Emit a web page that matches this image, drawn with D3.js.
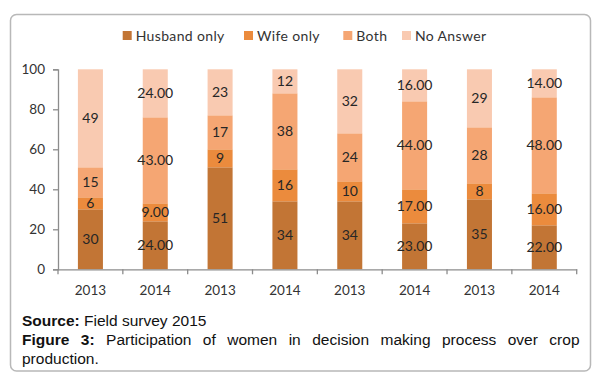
<!DOCTYPE html>
<html>
<head>
<meta charset="utf-8">
<script src="https://cdn.jsdelivr.net/npm/d3@7"></script>
<style>
  html, body { margin: 0; padding: 0; background: #fff; }
  svg { display: block; }
</style>
</head>
<body>
<svg id="chart" width="600" height="382"></svg>
<script>
const categories = ["2013", "2014", "2013", "2014", "2013", "2014", "2013", "2014"];
const seriesNames = ["Husband only", "Wife only", "Both", "No Answer"];
const husbandOnly = [30, 24, 51, 34, 34, 23, 35, 22];
const wifeOnly = [6, 9, 9, 16, 10, 17, 8, 16];
const both = [15, 43, 17, 38, 24, 44, 28, 48];
const noAnswer = [49, 24, 23, 12, 32, 16, 29, 14];
const labelDecimals = [0, 2, 0, 0, 0, 2, 0, 2];
const yTicks = [0, 20, 40, 60, 80, 100];
const sourceText = ["Source:", "Field survey 2015"];
const captionBold = "Figure 3:";
const captionText = "Participation of women in decision making process over crop production.";

const colors = ["#C27535", "#EB8B3D", "#F5A673", "#F9CAB1"];
const seriesValues = [husbandOnly, wifeOnly, both, noAnswer];

const svg = d3.select("#chart");

// Frame
svg.append("rect")
  .attr("x", 10.5).attr("y", 14.5)
  .attr("width", 580).attr("height", 356.5)
  .attr("rx", 6).attr("ry", 6)
  .attr("fill", "#fff")
  .attr("stroke", "#b8b8b8")
  .attr("stroke-width", 1.5);

const plotLeft = 58, plotRight = 576.7, plotTop = 69.3, plotBottom = 269.3;
const x = d3.scaleBand().domain(d3.range(categories.length)).range([plotLeft, plotRight])
  .paddingInner(0.614).paddingOuter(0.307);
const y = d3.scaleLinear().domain([0, 100]).range([plotBottom, plotTop]);

// stacked data
const table = categories.map((c, i) => {
  const o = { idx: i, cat: c };
  seriesNames.forEach((s, k) => o[s] = seriesValues[k][i]);
  return o;
});
const stack = d3.stack().keys(seriesNames)(table);

const fontFam = "Lato, 'Open Sans', sans-serif";

const layers = svg.append("g").selectAll("g").data(stack).join("g")
  .attr("fill", (d, k) => colors[k]);
layers.selectAll("rect").data(d => d).join("rect")
  .attr("x", d => x(d.data.idx))
  .attr("width", x.bandwidth())
  .attr("y", d => y(d[1]))
  .attr("height", d => y(d[0]) - y(d[1]));

// data labels
stack.forEach((layer, k) => {
  svg.append("g").selectAll("text").data(layer).join("text")
    .attr("x", d => x(d.data.idx) + x.bandwidth() / 2)
    .attr("y", d => y((d[0] + d[1]) / 2))
    .attr("dy", "0.36em")
    .attr("text-anchor", "middle")
    .attr("font-family", fontFam)
    .attr("font-size", "14px")
    .attr("fill", "#262626")
    .text(d => (d[1] - d[0]).toFixed(labelDecimals[d.data.idx]));
});

// Y axis
const yAxis = svg.append("g")
  .attr("transform", `translate(${plotLeft},0)`)
  .call(d3.axisLeft(y).tickValues(yTicks).tickSize(5).tickPadding(8));
yAxis.select(".domain").attr("stroke", "#8c8c8c").attr("stroke-width", 1.3);
yAxis.selectAll(".tick line").attr("stroke", "#8c8c8c").attr("stroke-width", 1.3);
yAxis.selectAll("text").attr("font-family", fontFam).attr("font-size", "13.5px").attr("fill", "#333");

// X axis
const xAxis = svg.append("g")
  .attr("transform", `translate(0,${plotBottom})`)
  .call(d3.axisBottom(x).tickSize(0).tickPadding(16).tickFormat(i => categories[i]));
xAxis.select(".domain").attr("stroke", "#8c8c8c").attr("stroke-width", 1.3);
xAxis.selectAll("text").attr("font-family", fontFam).attr("font-size", "13.5px").attr("fill", "#333");
// boundary ticks
const bounds = d3.range(categories.length + 1).map(i => plotLeft + i * x.step());
xAxis.selectAll(".bound").data(bounds).join("line")
  .attr("class", "bound")
  .attr("x1", d => d).attr("x2", d => d)
  .attr("y1", 0).attr("y2", 5)
  .attr("stroke", "#8c8c8c").attr("stroke-width", 1.3);

// Legend
const legendX = [122.7, 244, 343.3, 402];
const lg = svg.append("g").selectAll("g").data(seriesNames).join("g")
  .attr("transform", (d, i) => `translate(${legendX[i]},31)`);
lg.append("rect").attr("width", 9).attr("height", 9).attr("fill", (d, i) => colors[i]);
lg.append("text").attr("x", 13).attr("y", 4.5).attr("dy", "0.36em")
  .attr("font-family", fontFam).attr("font-size", "14px").attr("letter-spacing", "0.35px")
  .attr("fill", "#333")
  .text(d => d);

// Source line
const capFont = "'Liberation Sans', Arial, sans-serif";
const capSize = 15.5;
const src = svg.append("text").attr("x", 22).attr("y", 325.5)
  .attr("font-family", capFont).attr("font-size", capSize + "px").attr("fill", "#111");
src.append("tspan").attr("font-weight", "bold").text(sourceText[0]);
src.append("tspan").text(" " + sourceText[1]);

// Justified caption
const words = [];
captionBold.split(" ").forEach(w => words.push({ w, bold: true }));
captionText.split(" ").forEach(w => words.push({ w, bold: false }));
const capLeft = 22, capRight = 579.5;
const meas = svg.append("text").attr("font-family", capFont).attr("font-size", capSize + "px");
words.forEach(o => {
  meas.text(o.w).attr("font-weight", o.bold ? "bold" : "normal");
  o.width = meas.node().getComputedTextLength();
});
const spaceW = 4.3;
meas.remove();
const lines = [];
let cur = [], curW = 0;
words.forEach(o => {
  const add = (cur.length ? spaceW : 0) + o.width;
  if (cur.length && curW + add > capRight - capLeft) {
    lines.push(cur); cur = [o]; curW = o.width;
  } else { cur.push(o); curW += add; }
});
if (cur.length) lines.push(cur);
const lineYs = [345, 364, 383];
lines.forEach((ln, li) => {
  const total = d3.sum(ln, o => o.width);
  const last = li === lines.length - 1;
  const gap = (!last && ln.length > 1) ? (capRight - capLeft - total) / (ln.length - 1) : spaceW;
  let xx = capLeft;
  ln.forEach(o => {
    svg.append("text").attr("x", xx).attr("y", lineYs[li])
      .attr("font-family", capFont).attr("font-size", capSize + "px")
      .attr("font-weight", o.bold ? "bold" : "normal")
      .attr("fill", "#111")
      .text(o.w);
    xx += o.width + gap;
  });
});
</script>
</body>
</html>
